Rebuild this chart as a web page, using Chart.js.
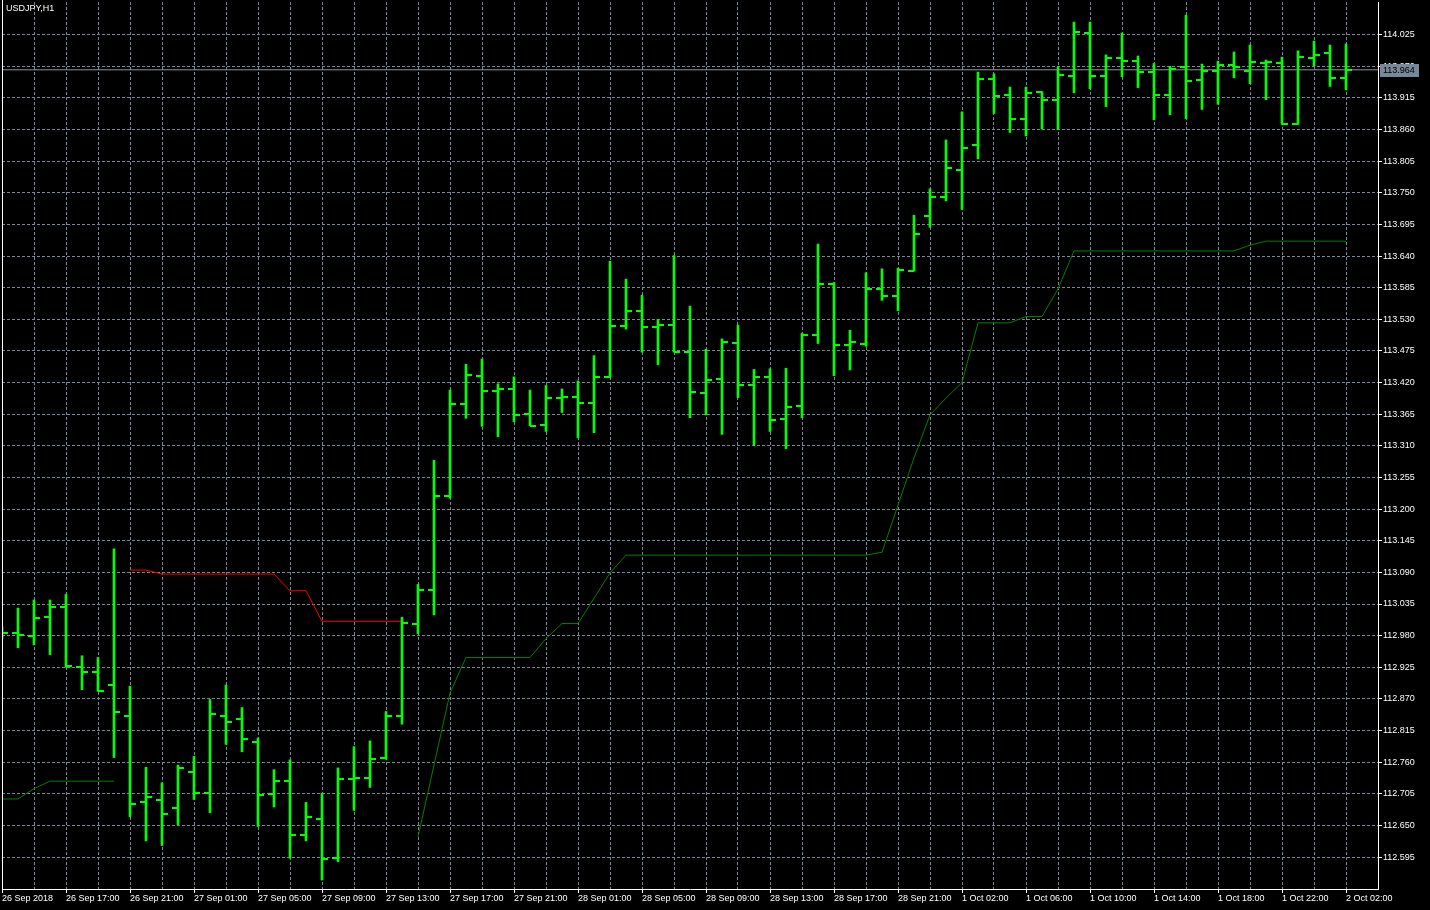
<!DOCTYPE html>
<html><head><meta charset="utf-8">
<script src="https://cdn.jsdelivr.net/npm/chart.js@4.4.0/dist/chart.umd.min.js"></script>
<style>html,body{margin:0;padding:0;background:#000;overflow:hidden}canvas{display:block}</style>
</head><body>
<canvas id="c" width="1430" height="910"></canvas>
<script>
const symbolTitle = 'USDJPY,H1';

const opens = [112.990,112.984,112.980,113.013,113.030,112.926,112.916,112.895,112.841,112.691,
112.695,112.680,112.743,112.707,112.840,112.835,112.795,112.705,112.727,112.634,
112.662,112.594,112.730,112.733,112.768,112.840,113.000,113.059,113.222,113.382,
113.432,113.406,113.409,113.366,113.347,113.393,113.395,113.385,113.430,113.518,
113.545,113.517,113.520,113.473,113.402,113.427,113.489,113.416,113.429,113.357,
113.380,113.503,113.592,113.485,113.487,113.582,113.571,113.614,113.709,113.742,
113.790,113.834,113.948,113.920,113.879,113.926,113.912,113.954,114.028,113.954,
113.985,113.980,113.961,113.921,113.968,113.947,113.962,113.973,113.962,113.976,
113.976,113.869,113.985,113.994,113.949];
const highs = [112.995,113.028,113.042,113.042,113.052,112.945,112.942,113.131,112.892,112.751,
112.724,112.755,112.770,112.869,112.894,112.855,112.802,112.747,112.764,112.690,
112.706,112.750,112.787,112.797,112.848,113.012,113.069,113.285,113.407,113.452,
113.461,113.418,113.430,113.407,113.415,113.409,113.423,113.467,113.631,113.600,
113.572,113.530,113.641,113.553,113.478,113.496,113.520,113.443,113.444,113.445,
113.506,113.661,113.594,113.511,113.611,113.618,113.619,113.711,113.757,113.842,
113.891,113.960,113.957,113.934,113.934,113.926,113.969,114.047,114.047,113.990,
114.028,113.988,113.975,113.970,114.059,113.974,113.979,113.995,114.007,113.981,
113.986,113.997,114.014,114.007,114.009];
const lows = [112.975,112.959,112.964,112.947,112.925,112.886,112.883,112.768,112.665,112.623,
112.615,112.651,112.695,112.672,112.791,112.778,112.648,112.682,112.593,112.623,
112.555,112.587,112.676,112.716,112.765,112.826,112.983,113.016,113.219,113.358,
113.344,113.326,113.352,113.345,113.335,113.368,113.324,113.333,113.430,113.513,
113.473,113.451,113.473,113.359,113.364,113.330,113.394,113.311,113.335,113.305,
113.359,113.488,113.432,113.442,113.483,113.563,113.545,113.614,113.690,113.736,
113.721,113.809,113.888,113.855,113.849,113.861,113.860,113.924,113.931,113.900,
113.952,113.933,113.877,113.886,113.879,113.895,113.904,113.950,113.940,113.912,
113.869,113.869,113.971,113.935,113.929];
const closes = [112.985,112.981,113.011,113.030,112.927,112.916,112.884,112.847,112.688,112.700,
112.670,112.750,112.707,112.844,112.829,112.801,112.703,112.727,112.634,112.665,
112.592,112.730,112.733,112.766,112.840,113.002,113.059,113.222,113.382,113.434,
113.406,113.409,113.364,113.345,113.393,113.395,113.385,113.430,113.518,113.545,
113.517,113.520,113.473,113.404,113.425,113.490,113.416,113.429,113.355,113.378,
113.503,113.592,113.485,113.490,113.582,113.571,113.616,113.679,113.742,113.794,
113.828,113.948,113.919,113.879,113.924,113.912,113.955,114.030,113.954,113.985,
113.980,113.961,113.921,113.966,113.945,113.962,113.973,113.969,113.978,113.978,
113.869,113.987,113.990,113.950,113.964];

const redLine = [null,null,null,null,null,null,null,null,113.094,113.094,
113.087,113.087,113.087,113.087,113.087,113.087,113.087,113.087,113.058,113.058,
113.005,113.005,113.005,113.005,113.005,113.005];

const greenLine = [112.696,112.696,112.714,112.727,112.727,112.727,112.727,112.727,null,null,
null,null,null,null,null,null,null,null,null,null,
null,null,null,null,null,null,112.630,112.755,112.880,112.942,
112.942,112.942,112.942,112.942,112.975,113.001,113.001,113.045,113.089,113.120,
113.120,113.120,113.120,113.120,113.120,113.120,113.120,113.120,113.120,113.120,
113.120,113.120,113.120,113.120,113.120,113.125,113.207,113.289,113.364,113.393,
113.420,113.524,113.524,113.524,113.535,113.535,113.583,113.649,113.649,113.649,
113.649,113.649,113.649,113.649,113.649,113.649,113.649,113.649,113.659,113.666,
113.666,113.666,113.666,113.666,113.666];

const xTickLabels = ['26 Sep 2018','26 Sep 17:00','26 Sep 21:00','27 Sep 01:00','27 Sep 05:00',
'27 Sep 09:00','27 Sep 13:00','27 Sep 17:00','27 Sep 21:00','28 Sep 01:00','28 Sep 05:00',
'28 Sep 09:00','28 Sep 13:00','28 Sep 17:00','28 Sep 21:00','1 Oct 02:00','1 Oct 06:00',
'1 Oct 10:00','1 Oct 14:00','1 Oct 18:00','1 Oct 22:00','2 Oct 02:00'];
const yTickLabels = ['112.595','112.650','112.705','112.760','112.815','112.870','112.925',
'112.980','113.035','113.090','113.145','113.200','113.255','113.310','113.365','113.420',
'113.475','113.530','113.585','113.640','113.695','113.750','113.805','113.860','113.915',
'113.970','114.025'];

const BARS_PER_LABEL = 4;
const BARS_PER_GRID = 2;
const X_MAX = 86;
const Y_MIN = 112.5394, Y_MAX = 114.0819;

const BAR_COLOR = '#00ff00';
const GRID_COLOR = '#778899';
const FONT_FAMILY = '"Liberation Sans", Arial, sans-serif';
const FONT_SIZE = 9;

function tickImage(side) {
  const c = document.createElement('canvas');
  c.width = 12; c.height = 2;
  const g = c.getContext('2d');
  g.fillStyle = BAR_COLOR;
  g.fillRect(side === 'left' ? 0 : 6, 0, 6, 2);
  return c;
}

const idx = opens.map((_, i) => i);
const hlData = idx.map(i => ({x: i, y: [lows[i], highs[i]]}));
const openData = idx.map(i => ({x: i, y: opens[i]}));
const closeData = idx.map(i => ({x: i, y: closes[i]}));
const redData = redLine.map((v, i) => ({x: i, y: v}));
const greenData = greenLine.map((v, i) => ({x: i, y: v}));
const lastClose = closes[closes.length - 1];
const priceLineData = [{x: 0, y: lastClose}, {x: X_MAX, y: lastClose}];

const decor = {
  id: 'decor',
  afterDraw(chart) {
    const {ctx, chartArea, scales} = chart;
    ctx.save();
    ctx.strokeStyle = '#ffffff';
    ctx.lineWidth = 1;
    ctx.beginPath();
    ctx.moveTo(chartArea.left + 0.5, 0);
    ctx.lineTo(chartArea.left + 0.5, chartArea.bottom + 1);
    ctx.stroke();
    ctx.font = FONT_SIZE + 'px ' + FONT_FAMILY;
    ctx.fillStyle = '#ffffff';
    ctx.textAlign = 'left';
    ctx.textBaseline = 'top';
    ctx.fillText(symbolTitle, chartArea.left + 4, chartArea.top + 2);
    const y = Math.round(scales.y.getPixelForValue(lastClose));
    const x0 = scales.y.left + 2;
    ctx.fillStyle = GRID_COLOR;
    ctx.fillRect(x0, y - 6, 39, 13);
    ctx.fillStyle = '#000000';
    ctx.textBaseline = 'middle';
    ctx.fillText(lastClose.toFixed(3), x0 + 3, y + 1);
    ctx.restore();
  }
};

new Chart(document.getElementById('c'), {
  type: 'bar',
  data: {
    datasets: [
      {type: 'line', data: openData, showLine: false, pointStyle: tickImage('left'), pointRadius: 3, order: 0},
      {type: 'line', data: closeData, showLine: false, pointStyle: tickImage('right'), pointRadius: 3, order: 0},
      {type: 'bar', data: hlData, backgroundColor: BAR_COLOR, barThickness: 2, borderWidth: 0, order: 1},
      {type: 'line', data: priceLineData, borderColor: '#8a96a3', borderWidth: 1, pointRadius: 0, order: 2},
      {type: 'line', data: redData, borderColor: '#ff0000', borderWidth: 1, pointRadius: 0, spanGaps: false, order: 3},
      {type: 'line', data: greenData, borderColor: '#008000', borderWidth: 1, pointRadius: 0, spanGaps: false, order: 3}
    ]
  },
  options: {
    responsive: false,
    animation: false,
    devicePixelRatio: 1,
    events: [],
    layout: {autoPadding: false, padding: {left: 2, top: 2, right: 0, bottom: 0}},
    plugins: {legend: {display: false}, tooltip: {enabled: false}, title: {display: false}},
    scales: {
      x: {
        type: 'linear', min: 0, max: X_MAX, offset: false,
        afterBuildTicks: (s) => { const t = []; for (let v = 0; v <= X_MAX; v += BARS_PER_GRID) t.push({value: v}); s.ticks = t; },
        afterFit: (s) => { s.height = 21; s.paddingLeft = 0; s.paddingRight = 0; },
        grid: {offset: false, color: GRID_COLOR, lineWidth: 1, drawTicks: true, tickLength: 4,
          tickColor: (ctx) => (ctx.tick && ctx.tick.value % BARS_PER_LABEL === 0) ? '#ffffff' : 'rgba(0,0,0,0)'},
        border: {display: true, color: '#ffffff', width: 1, dash: [3, 2]},
        ticks: {
          autoSkip: false, maxRotation: 0, minRotation: 0, align: 'start', padding: 0,
          color: '#ffffff', font: {family: FONT_FAMILY, size: FONT_SIZE},
          callback: (v) => (v % BARS_PER_LABEL === 0 && xTickLabels[v / BARS_PER_LABEL] !== undefined) ? xTickLabels[v / BARS_PER_LABEL] : ''
        }
      },
      y: {
        type: 'linear', position: 'right', min: Y_MIN, max: Y_MAX,
        afterBuildTicks: (s) => { s.ticks = yTickLabels.map(l => ({value: parseFloat(l)})); },
        afterFit: (s) => { s.width = 52; s.paddingTop = 0; s.paddingBottom = 0; },
        grid: {color: GRID_COLOR, lineWidth: 1, drawTicks: true, tickLength: 4, tickColor: '#ffffff'},
        border: {display: true, color: '#ffffff', width: 1, dash: [3, 2]},
        ticks: {
          autoSkip: false, padding: 1, color: '#ffffff', font: {family: FONT_FAMILY, size: FONT_SIZE},
          callback: (v, i) => yTickLabels[i]
        }
      }
    }
  },
  plugins: [decor]
});
</script>
</body></html>
